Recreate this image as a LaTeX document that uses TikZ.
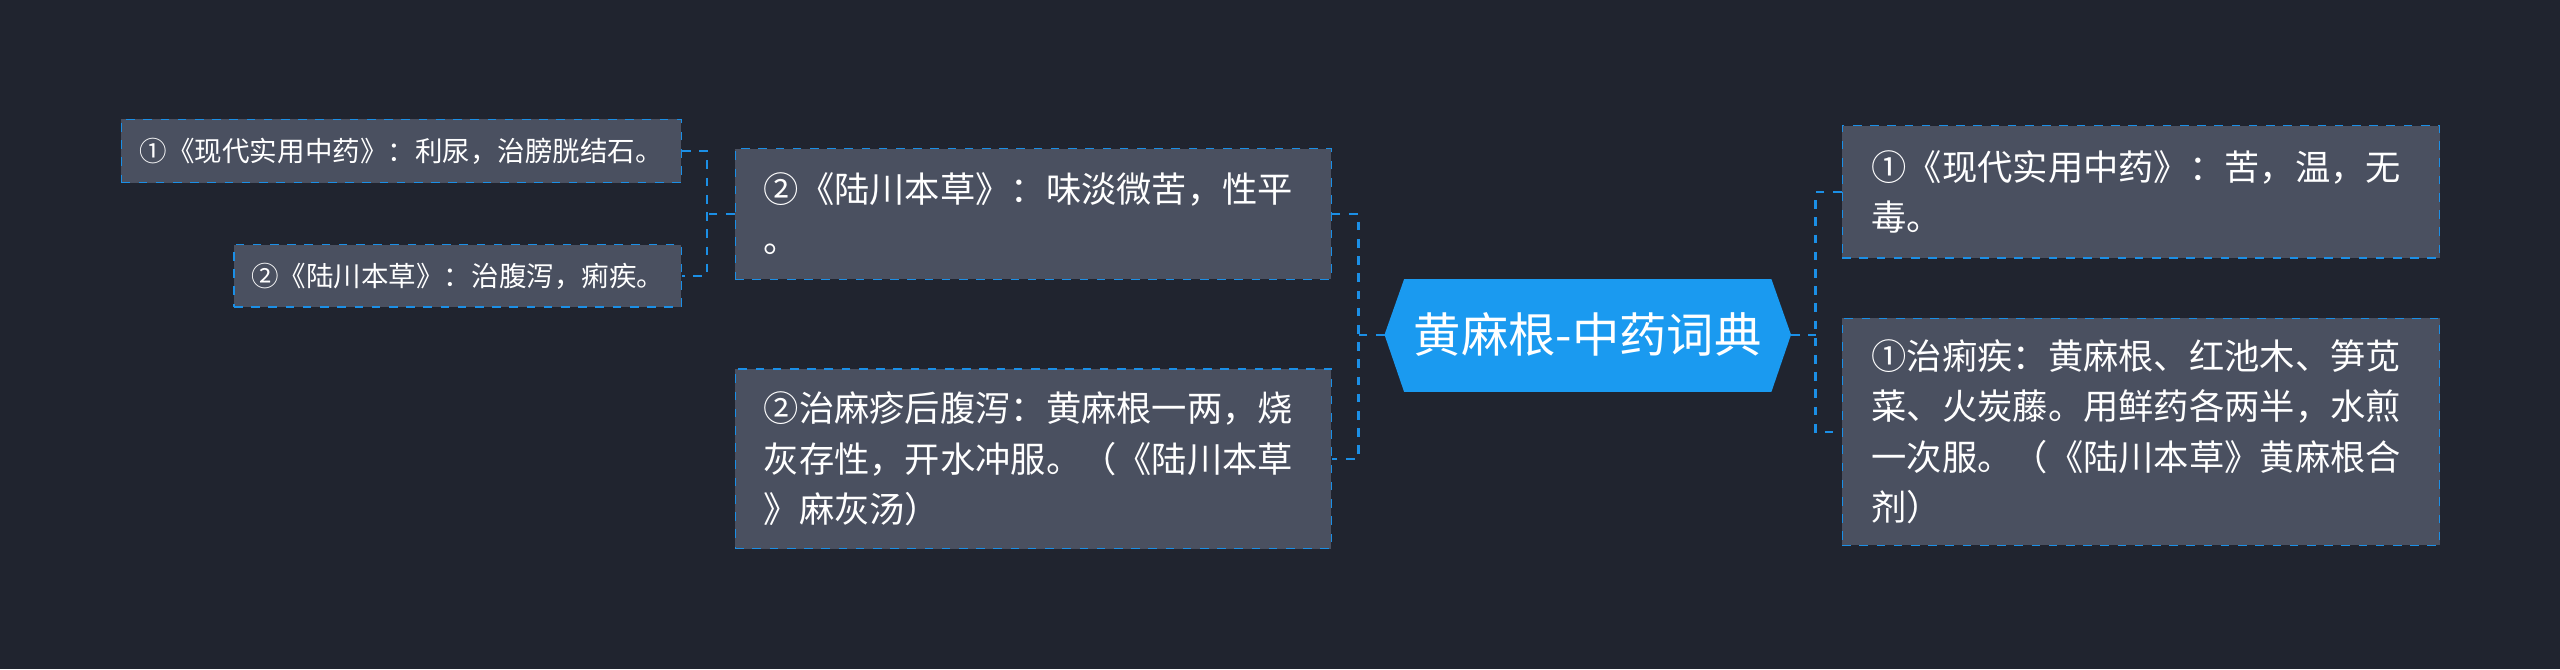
\documentclass[tikz,border=0pt]{standalone}
\usepackage{fontspec}
\setmainfont{Noto Sans CJK SC}
\usetikzlibrary{calc}
\definecolor{bgcol}{HTML}{20242F}
\definecolor{boxcol}{HTML}{4A5060}
\definecolor{linecol}{HTML}{1B8FE6}
\definecolor{hubcol}{HTML}{1A9AF0}
\begin{document}
\begin{tikzpicture}
		[x=0.02cm, y=-0.02cm,
			leaf/.style={draw=linecol, dashed, fill=boxcol, text=white, anchor=west, align=left, inner xsep=6pt, font=\fontsize{12.3}{17.5}\selectfont},
			small/.style={leaf, font=\fontsize{9.6}{12}\selectfont, inner xsep=4pt},
			link/.style={draw=linecol, dashed, line width=0.8pt}]
		% background
		\fill[bgcol] (0,0) rectangle (1568,410);
		\useasboundingbox (0,0) rectangle (1568,410);
		% hub
		\fill[hubcol] (848,205) -- (860,171) -- (1085,171) -- (1097,205) -- (1085,240) -- (860,240) -- cycle;
		\node[text=white, font=\fontsize{16.5}{20}\selectfont] (hub) at (972.5,205) {黄麻根-中药词典};
		\coordinate (hl) at (848,205);
		\coordinate (hr) at (1097,205);
		% right side
		\node[leaf, minimum width=366*0.02cm, minimum height=81*0.02cm, text width=330*0.02cm] (r1) at (1128,117.5) {①《现代实用中药》：苦，温，无\\毒。};
		\node[leaf, minimum width=366*0.02cm, minimum height=139*0.02cm, text width=330*0.02cm] (r2) at (1128,264.5) {①治痢疾：黄麻根、红池木、笋苋\\菜、火炭藤。用鲜药各两半，水煎\\一次服。（《陆川本草》黄麻根合\\剂）};
		% left side
		\node[leaf, minimum width=365*0.02cm, minimum height=80*0.02cm, text width=330*0.02cm] (l1) at (450,131) {②《陆川本草》：味淡微苦，性平\\。};
		\node[leaf, minimum width=365*0.02cm, minimum height=110*0.02cm, text width=330*0.02cm] (l2) at (450,281) {②治麻疹后腹泻：黄麻根一两，烧\\灰存性，开水冲服。（《陆川本草\\》麻灰汤）};
		\node[small, minimum width=343*0.02cm, minimum height=39*0.02cm] (f1) at (74,92.5) {①《现代实用中药》：利尿，治膀胱结石。};
		\node[small, minimum width=274*0.02cm, minimum height=38*0.02cm] (f2) at (143,169) {②《陆川本草》：治腹泻，痢疾。};
		% connectors
		\draw[link] (hl) -- (832,205);
		\draw[link] (l1.east) -| (832,205) |- (l2.east);
		\draw[link] (hr) -- (1112,205);
		\draw[link] (r1.west) -| (1112,205) |- (r2.west);
		\draw[link] (l1.west) -- (433,131);
		\draw[link] (f1.east) -| (433,131) |- (f2.east);
	\end{tikzpicture}
\end{document}
